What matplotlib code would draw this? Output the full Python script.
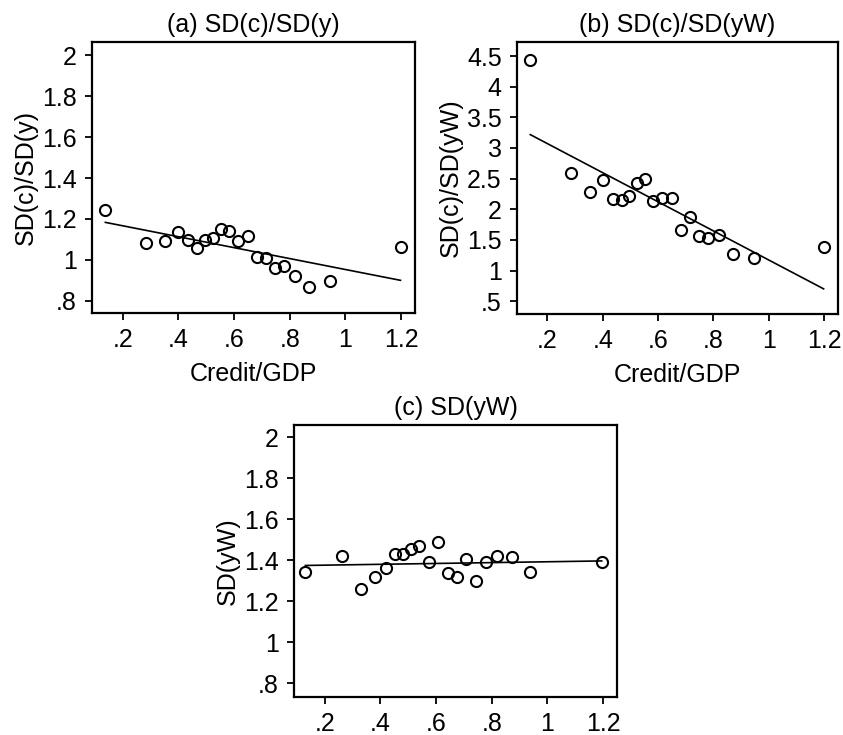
import numpy as np
import matplotlib.pyplot as plt
from matplotlib.ticker import FuncFormatter

plt.rcParams['font.family'] = ['Liberation Sans', 'DejaVu Sans']

# credit to GDP ratio by country (panels a and b share the sample)
credit_ab = [0.138, 0.285, 0.352, 0.399, 0.436, 0.468, 0.495, 0.524, 0.554, 0.583,
             0.615, 0.649, 0.683, 0.714, 0.747, 0.781, 0.819, 0.870, 0.946, 1.198]
sd_c_y = [1.245, 1.080, 1.093, 1.138, 1.096, 1.060, 1.099, 1.109, 1.151, 1.140,
          1.094, 1.115, 1.015, 1.008, 0.959, 0.972, 0.920, 0.868, 0.896, 1.065]
sd_c_yw = [4.43, 2.59, 2.28, 2.47, 2.17, 2.15, 2.21, 2.43, 2.50, 2.13,
           2.19, 2.19, 1.66, 1.87, 1.56, 1.53, 1.58, 1.27, 1.21, 1.39]

credit_c = [0.131, 0.263, 0.332, 0.381, 0.421, 0.453, 0.481, 0.510, 0.540, 0.574,
            0.608, 0.642, 0.675, 0.709, 0.743, 0.781, 0.820, 0.872, 0.939, 1.195]
sd_yw = [1.343, 1.418, 1.260, 1.320, 1.364, 1.429, 1.429, 1.457, 1.470, 1.390,
         1.489, 1.335, 1.317, 1.405, 1.298, 1.390, 1.421, 1.416, 1.341, 1.389]

x_ticks = [0.2, 0.4, 0.6, 0.8, 1.0, 1.2]
y_ticks_ratio = [0.8, 1.0, 1.2, 1.4, 1.6, 1.8, 2.0]
y_ticks_b = [0.5, 1.0, 1.5, 2.0, 2.5, 3.0, 3.5, 4.0, 4.5]

FS = 18


def stata_fmt(v, pos):
    s = ('%.2f' % v).rstrip('0').rstrip('.')
    if s.startswith('0.'):
        s = s[1:]
    return s


def scatter_fit(ax, x, y, title, ylabel, yticks, ylim, xlabel=None):
    x = np.array(x)
    y = np.array(y)
    ax.plot(x, y, 'o', mfc='none', mec='black', ms=8, mew=1.5, zorder=3)
    slope, icept = np.polyfit(x, y, 1)
    xs = np.array([x.min(), x.max()])
    ax.plot(xs, icept + slope * xs, color='black', lw=1.2)
    ax.set_xlim(0.09, 1.25)
    ax.set_ylim(*ylim)
    ax.set_xticks(x_ticks)
    ax.set_yticks(yticks)
    ax.xaxis.set_major_formatter(FuncFormatter(stata_fmt))
    ax.yaxis.set_major_formatter(FuncFormatter(stata_fmt))
    ax.tick_params(direction='out', length=5, width=1.3, labelsize=FS, pad=6)
    for sp in ax.spines.values():
        sp.set_linewidth(1.6)
    ax.set_title(title, fontsize=FS, pad=7)
    ax.set_ylabel(ylabel, fontsize=FS, labelpad=3)
    if xlabel:
        ax.set_xlabel(xlabel, fontsize=FS, labelpad=7)


fig = plt.figure(figsize=(8.43, 7.35), dpi=100)
W, H = 843, 735


def add_axes(left, top, right, bottom):
    return fig.add_axes([left / W, 1 - bottom / H, (right - left) / W, (bottom - top) / H])


ax_a = add_axes(92, 42, 415, 313)
ax_b = add_axes(517, 42, 838, 314)
ax_c = add_axes(294, 425, 617, 697)

scatter_fit(ax_a, credit_ab, sd_c_y, '(a) SD(c)/SD(y)', 'SD(c)/SD(y)',
            y_ticks_ratio, (0.74, 2.065), 'Credit/GDP')
scatter_fit(ax_b, credit_ab, sd_c_yw, '(b) SD(c)/SD(yW)', 'SD(c)/SD(yW)',
            y_ticks_b, (0.29, 4.73), 'Credit/GDP')
scatter_fit(ax_c, credit_c, sd_yw, '(c) SD(yW)', 'SD(yW)',
            y_ticks_ratio, (0.732, 2.06))

fig.savefig('out.png', dpi=100)
